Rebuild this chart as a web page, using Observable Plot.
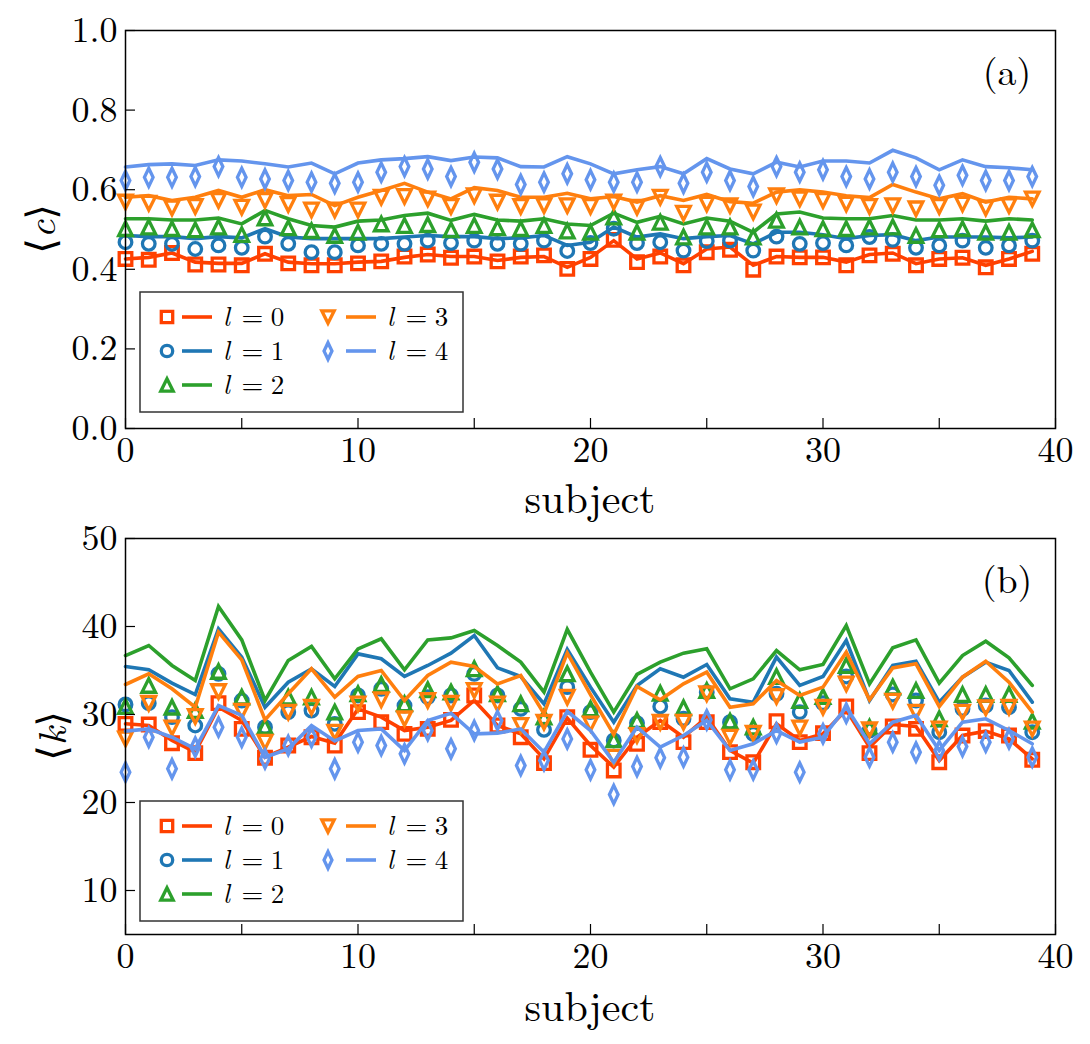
<!DOCTYPE html>
<html>
<head>
<meta charset="utf-8">
<script src="https://cdn.jsdelivr.net/npm/d3@7"></script>
<script src="https://cdn.jsdelivr.net/npm/@observablehq/plot@0.6"></script>
<style>
  html, body { margin: 0; padding: 0; background: #fff; }
  #chart { width: 1090px; }
  #chart svg { display: block; }
</style>
</head>
<body>
<div id="chart"></div>
<script>
// ---------------- data ----------------
const subjects = [0,1,2,3,4,5,6,7,8,9,10,11,12,13,14,15,16,17,18,19,20,21,22,23,24,25,26,27,28,29,30,31,32,33,34,35,36,37,38,39];
const seriesLabels = ["0", "1", "2", "3", "4"];
const seriesColors = ["#ff4000", "#1f77b4", "#2ca02c", "#ff7f0e", "#6495ed"];
const xMajorTicks = [0, 10, 20, 30, 40];
const xAllTicks = [0, 5, 10, 15, 20, 25, 30, 35, 40];
const yTicksC = [0, 0.2, 0.4, 0.6, 0.8, 1.0];
const yTicksK = [10, 20, 30, 40, 50];

// panel (a): <c>  — markers (points) and lines
const cPts0 = [0.426,0.424,0.441,0.412,0.412,0.410,0.439,0.415,0.410,0.410,0.415,0.420,0.432,0.437,0.429,0.432,0.420,0.432,0.435,0.401,0.426,0.474,0.418,0.432,0.410,0.443,0.449,0.399,0.432,0.430,0.430,0.410,0.435,0.439,0.410,0.426,0.429,0.405,0.426,0.439];
const cLine0 = [0.426,0.430,0.441,0.418,0.415,0.415,0.439,0.418,0.414,0.414,0.418,0.420,0.430,0.437,0.432,0.432,0.422,0.430,0.432,0.405,0.430,0.472,0.426,0.441,0.414,0.451,0.456,0.410,0.432,0.430,0.430,0.418,0.437,0.441,0.414,0.426,0.429,0.410,0.426,0.445];
const cPts1 = [0.468,0.464,0.464,0.451,0.460,0.454,0.482,0.464,0.443,0.443,0.460,0.464,0.464,0.472,0.466,0.472,0.464,0.464,0.472,0.446,0.466,0.502,0.466,0.468,0.447,0.471,0.472,0.447,0.482,0.464,0.466,0.460,0.481,0.474,0.454,0.460,0.472,0.454,0.460,0.472];
const cLine1 = [0.485,0.482,0.482,0.477,0.482,0.479,0.502,0.481,0.477,0.477,0.477,0.477,0.481,0.485,0.482,0.482,0.477,0.479,0.485,0.460,0.468,0.506,0.481,0.489,0.477,0.482,0.485,0.464,0.493,0.493,0.487,0.477,0.485,0.487,0.472,0.481,0.481,0.481,0.479,0.481];
const cPts2 = [0.502,0.506,0.502,0.499,0.506,0.487,0.529,0.504,0.497,0.485,0.493,0.514,0.510,0.512,0.499,0.510,0.504,0.502,0.510,0.496,0.493,0.531,0.493,0.518,0.481,0.506,0.506,0.481,0.523,0.506,0.502,0.502,0.506,0.506,0.485,0.499,0.502,0.493,0.493,0.499];
const cLine2 = [0.527,0.527,0.524,0.524,0.529,0.514,0.548,0.527,0.510,0.506,0.521,0.524,0.535,0.541,0.523,0.538,0.524,0.521,0.527,0.514,0.510,0.541,0.518,0.533,0.514,0.529,0.521,0.493,0.539,0.544,0.529,0.527,0.527,0.535,0.524,0.524,0.527,0.521,0.527,0.524];
const cPts3 = [0.569,0.566,0.554,0.558,0.573,0.556,0.573,0.563,0.549,0.549,0.549,0.581,0.583,0.577,0.558,0.585,0.569,0.558,0.560,0.560,0.558,0.569,0.556,0.581,0.541,0.564,0.560,0.544,0.585,0.577,0.573,0.564,0.558,0.560,0.552,0.558,0.564,0.554,0.560,0.577];
const cLine3 = [0.581,0.585,0.573,0.581,0.598,0.581,0.600,0.585,0.588,0.560,0.581,0.598,0.616,0.594,0.577,0.605,0.598,0.581,0.581,0.591,0.577,0.583,0.569,0.585,0.573,0.588,0.570,0.566,0.594,0.600,0.594,0.585,0.580,0.613,0.594,0.577,0.590,0.569,0.581,0.577];
const cPts4 = [0.623,0.631,0.631,0.633,0.658,0.631,0.627,0.623,0.619,0.616,0.619,0.644,0.658,0.652,0.633,0.669,0.652,0.613,0.619,0.640,0.625,0.619,0.619,0.658,0.616,0.644,0.623,0.608,0.658,0.644,0.650,0.633,0.627,0.644,0.633,0.611,0.636,0.623,0.623,0.633];
const cLine4 = [0.657,0.663,0.665,0.661,0.675,0.672,0.665,0.657,0.667,0.640,0.667,0.675,0.678,0.683,0.673,0.682,0.680,0.658,0.657,0.683,0.665,0.640,0.650,0.658,0.640,0.678,0.652,0.640,0.669,0.657,0.672,0.672,0.667,0.699,0.680,0.650,0.675,0.658,0.655,0.650];

// panel (b): <k>
const kPts0 = [28.94,28.86,26.74,25.61,31.29,28.37,25.08,26.48,27.42,26.48,30.27,29.13,27.80,28.37,29.39,32.16,28.75,27.42,24.47,29.70,25.99,23.64,26.67,29.13,26.86,29.13,25.72,24.58,29.24,26.86,27.88,30.91,25.61,28.64,28.37,24.58,27.61,28.11,27.61,24.85];
const kLine0 = [28.94,28.75,27.05,25.72,30.83,29.32,25.15,26.29,27.50,26.74,30.64,29.70,28.18,28.56,29.32,31.59,28.75,27.80,24.96,29.60,26.48,24.02,27.42,29.32,27.42,29.70,25.91,24.47,28.94,27.05,27.80,30.53,26.29,28.86,28.64,24.77,27.61,28.11,27.24,24.96];
const kPts1 = [31.14,31.29,29.70,28.75,34.62,31.59,28.56,30.27,30.45,28.94,32.16,32.92,31.02,31.97,32.16,34.62,32.16,30.64,28.26,33.11,30.27,27.05,29.02,30.91,29.51,32.54,29.13,27.80,32.35,30.27,31.29,34.32,28.18,32.27,31.59,27.99,30.64,31.02,30.83,27.99];
const kLine1 = [35.45,35.08,33.56,32.27,39.73,36.52,30.83,33.67,35.19,33.18,36.89,36.33,34.32,35.57,36.97,38.98,35.30,34.32,31.21,37.40,33.11,29.13,33.30,35.19,34.24,35.68,31.78,31.40,36.52,33.30,34.32,38.41,31.59,35.57,36.06,31.40,34.24,35.95,35.00,31.40];
const kPts2 = [30.91,33.30,30.83,30.45,34.89,31.97,28.64,31.97,31.97,30.27,32.35,33.41,31.21,32.80,32.54,35.19,32.35,31.21,29.70,34.62,30.64,27.12,29.32,32.42,30.76,32.73,29.24,28.56,34.32,31.59,32.05,35.57,28.56,33.11,32.73,29.51,32.27,32.27,32.27,29.24];
const kLine2 = [36.70,37.84,35.57,33.86,42.27,38.48,31.59,36.14,37.73,34.05,37.46,38.60,35.08,38.48,38.71,39.55,37.84,35.95,32.54,39.68,34.81,30.27,34.55,35.95,36.97,37.46,32.92,34.05,37.27,35.08,35.68,40.11,33.48,37.58,38.48,33.56,36.70,38.33,36.44,33.30];
const kPts3 = [27.23,31.29,28.48,29.77,32.61,30.38,26.86,30.27,30.83,27.99,31.21,31.67,29.51,31.59,31.29,32.73,31.21,28.75,29.13,31.97,28.94,25.15,27.61,29.13,29.13,32.35,27.42,27.88,32.05,28.48,30.83,33.48,28.26,31.52,30.27,28.37,30.27,30.76,30.83,28.37];
const kLine3 = [33.41,34.62,32.92,30.83,39.36,36.21,29.39,32.35,35.19,31.97,34.32,35.00,31.59,34.43,35.95,35.45,33.48,34.43,30.08,37.00,32.27,27.73,33.18,31.67,33.48,34.81,30.83,31.21,33.86,32.16,33.11,37.08,31.67,35.30,35.76,30.91,34.24,36.06,33.67,30.27];
const kPts4 = [23.45,27.42,23.83,26.29,28.56,27.42,24.96,26.48,27.42,23.83,26.86,26.48,25.53,28.18,26.10,28.18,29.32,24.20,24.77,27.23,23.71,20.91,24.09,25.08,25.15,29.39,23.71,23.71,27.88,23.45,27.80,30.15,25.15,26.86,25.72,25.91,26.36,26.86,27.24,25.15];
const kLine4 = [28.11,28.37,27.42,26.10,31.02,29.89,25.15,26.10,28.75,27.00,28.18,28.37,25.90,29.32,30.15,27.80,27.88,28.37,25.72,30.36,28.18,24.58,28.56,26.29,27.61,29.32,25.91,26.67,28.18,26.86,27.42,30.83,26.67,29.13,29.89,25.91,29.13,29.51,28.18,26.67];

// ---------------- symbols ----------------
const rad = size => Math.sqrt(size / Math.PI);
const symSquare = { draw(c, s) { const r = rad(s); c.moveTo(-r, -r); c.lineTo(r, -r); c.lineTo(r, r); c.lineTo(-r, r); c.closePath(); } };
const symCircle = { draw(c, s) { const r = rad(s); c.moveTo(r, 0); c.arc(0, 0, r, 0, 2 * Math.PI); c.closePath(); } };
const symTriUp = { draw(c, s) { const r = rad(s); c.moveTo(0, -r); c.lineTo(r, r); c.lineTo(-r, r); c.closePath(); } };
const symTriDown = { draw(c, s) { const r = rad(s); c.moveTo(0, r); c.lineTo(r, -r); c.lineTo(-r, -r); c.closePath(); } };
const symThinDiamond = { draw(c, s) { const r = rad(s); c.moveTo(0, -1.3 * r); c.lineTo(0.62 * r, 0); c.lineTo(0, 1.3 * r); c.lineTo(-0.62 * r, 0); c.closePath(); } };
const symbols = [symSquare, symCircle, symTriUp, symTriDown, symThinDiamond];
const symRadius = [6.3, 6.3, 6.8, 6.8, 7];
const MARKER_SW = 3.3;

const SERIF = "'Latin Modern Roman', 'Liberation Serif', 'DejaVu Serif', serif";

function table(vals) { return subjects.map((s, i) => ({ subject: s, value: vals[i] })); }

function makePanel(opts) {
  const seriesMarks = [];
  for (let l = 0; l < 5; l++) {
    seriesMarks.push(Plot.dot(table(opts.pts[l]), {
      x: "subject", y: "value", symbol: symbols[l], r: symRadius[l],
      stroke: seriesColors[l], fill: "none", strokeWidth: MARKER_SW, strokeLinejoin: "miter"
    }));
    seriesMarks.push(Plot.line(table(opts.lines[l]), {
      x: "subject", y: "value", stroke: seriesColors[l], strokeWidth: 3.6, strokeLinejoin: "miter", strokeMiterlimit: 4
    }));
  }
  const svg = Plot.plot({
    width: 1090, height: opts.height,
    marginLeft: 125, marginRight: 35, marginTop: opts.marginTop, marginBottom: opts.marginBottom,
    style: { fontFamily: SERIF, fontSize: "36px", background: "white", color: "black", overflow: "visible" },
    x: { domain: [0, 40] },
    y: { domain: opts.yDomain },
    marks: [
      ...seriesMarks,
      Plot.axisX({ ticks: xAllTicks, tickSize: -10, tickFormat: () => "", label: null, strokeWidth: 1.2 }),
      Plot.axisX({ ticks: xMajorTicks, tickSize: 0, tickPadding: 8, tickFormat: d => String(d), label: null }),
      Plot.axisY({ ticks: opts.yTicks, tickSize: -10, tickFormat: () => "", label: null, strokeWidth: 1.2 }),
      Plot.axisY({ ticks: opts.yTicks, tickSize: 0, tickPadding: 8, tickFormat: opts.yFormat, label: null }),
      Plot.frame({ stroke: "black", strokeWidth: 1.5 })
    ]
  });
  const s = d3.select(svg);
  // drop the empty label slots of the tick-only axes
  s.selectAll("text").filter(function () { return this.textContent.trim() === ""; }).remove();

  // y-axis label ⟨c⟩ / ⟨k⟩
  const yl = s.append("text")
    .attr("transform", `translate(${opts.yLabelX},${opts.yLabelY}) rotate(-90)`)
    .attr("text-anchor", "middle").attr("dominant-baseline", "central")
    .attr("font-family", SERIF).attr("font-size", 40).attr("fill", "black");
  yl.append("tspan").text("⟨");
  yl.append("tspan").attr("font-style", "italic").text(opts.yVar);
  yl.append("tspan").text("⟩");

  // x-axis label
  s.append("text").attr("x", 590).attr("y", opts.xLabelY)
    .attr("text-anchor", "middle").attr("font-family", SERIF).attr("font-size", 42).attr("fill", "black")
    .text("subject");

  // panel tag
  s.append("text").attr("x", 1007).attr("y", opts.tagY)
    .attr("text-anchor", "middle").attr("font-family", SERIF).attr("font-size", 38).attr("fill", "black")
    .text(opts.tag);

  // legend
  const lg = s.append("g");
  const bx = 140, by = opts.legendTop, bw = 323, bh = 120;
  lg.append("rect").attr("x", bx).attr("y", by).attr("width", bw).attr("height", bh)
    .attr("fill", "white").attr("stroke", "#333").attr("stroke-width", 1.5);
  const cols = [{ mx: 167, lx1: 182, lx2: 212, tx: 226.5 }, { mx: 328, lx1: 346, lx2: 376, tx: 390.5 }];
  for (let l = 0; l < 5; l++) {
    const col = cols[l < 3 ? 0 : 1];
    const row = l < 3 ? l : l - 3;
    const cy = by + 25 + row * 34;
    const p = d3.path();
    const r = symRadius[l] - 0.6;
    symbols[l].draw(p, r * r * Math.PI);
    lg.append("path").attr("d", p.toString()).attr("transform", `translate(${col.mx},${cy})`)
      .attr("fill", "none").attr("stroke", seriesColors[l]).attr("stroke-width", MARKER_SW);
    lg.append("line").attr("x1", col.lx1).attr("x2", col.lx2).attr("y1", cy).attr("y2", cy)
      .attr("stroke", seriesColors[l]).attr("stroke-width", 3.6);
    const t = lg.append("text").attr("y", cy + 9).attr("text-anchor", "middle")
      .attr("font-family", SERIF).attr("font-size", 27).attr("fill", "black");
    t.append("tspan").attr("x", col.tx).attr("font-style", "italic").text("l");
    t.append("tspan").attr("x", col.tx + 26).attr("font-size", 28).text("=");
    t.append("tspan").attr("x", col.tx + 51).text(seriesLabels[l]);
  }
  return svg;
}

const chart = document.getElementById("chart");
chart.appendChild(makePanel({
  height: 510, marginTop: 30, marginBottom: 82, yDomain: [0, 1], yTicks: yTicksC,
  yFormat: d3.format(".1f"), yVar: "c", yLabelX: 38, yLabelY: 229, xLabelY: 513, tagY: 85, tag: "(a)",
  legendTop: 292,
  pts: [cPts0, cPts1, cPts2, cPts3, cPts4], lines: [cLine0, cLine1, cLine2, cLine3, cLine4]
}));
chart.appendChild(makePanel({
  height: 534, marginTop: 28, marginBottom: 110, yDomain: [5, 50], yTicks: yTicksK,
  yFormat: d => String(d), yVar: "k", yLabelX: 49, yLabelY: 226, xLabelY: 511, tagY: 83, tag: "(b)",
  legendTop: 291,
  pts: [kPts0, kPts1, kPts2, kPts3, kPts4], lines: [kLine0, kLine1, kLine2, kLine3, kLine4]
}));
</script>
</body>
</html>
